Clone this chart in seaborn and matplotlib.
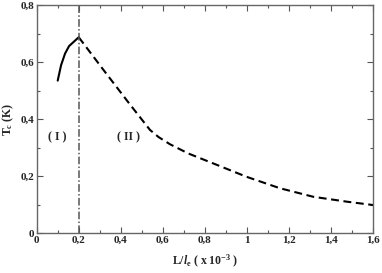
import matplotlib
matplotlib.use("Agg")
import matplotlib.pyplot as plt
import seaborn as sns
import pandas as pd
from matplotlib.ticker import FuncFormatter, MultipleLocator

# Data
x_region1 = [0.10, 0.116, 0.135, 0.154, 0.20]
y_region1 = [0.535, 0.589, 0.630, 0.656, 0.687]
x_region2 = [0.20, 0.317, 0.443, 0.539, 0.58, 0.634, 0.72, 0.839, 0.998, 1.156, 1.315, 1.473, 1.60]
y_region2 = [0.687, 0.573, 0.452, 0.362, 0.337, 0.312, 0.280, 0.245, 0.198, 0.158, 0.128, 0.111, 0.099]
boundary_x = 0.2
x_ticks = [0, 0.2, 0.4, 0.6, 0.8, 1.0, 1.2, 1.4, 1.6]
y_ticks = [0, 0.2, 0.4, 0.6, 0.8]
region_labels = ["( I )", "( II )"]
region_label_x = [0.10, 0.435]
region_label_y = [0.337, 0.337]

sns.set_style("ticks")
plt.rcParams['font.family'] = ['Liberation Serif', 'DejaVu Serif']
plt.rcParams['mathtext.fontset'] = 'custom'
plt.rcParams['mathtext.rm'] = 'Liberation Serif:bold'
plt.rcParams['mathtext.it'] = 'Liberation Serif:italic:bold'
plt.rcParams['mathtext.bf'] = 'Liberation Serif:bold'

fig = plt.figure(figsize=(3.82, 2.73), dpi=100)
ax = fig.add_axes([0.096, 0.1454, 0.881, 0.8363])

df1 = pd.DataFrame({"x": x_region1, "y": y_region1})
df2 = pd.DataFrame({"x": x_region2, "y": y_region2})
sns.lineplot(data=df1, x="x", y="y", ax=ax, color="black", lw=1.5, sort=False)
sns.lineplot(data=df2, x="x", y="y", ax=ax, color="black", lw=1.5, sort=False,
             dashes=False, linestyle=(0, (3.8, 2.2)))
ax.axvline(boundary_x, color="#555555", lw=1.1, linestyle=(0, (5, 1.5, 1, 1.5)))

for t, xx, yy in zip(region_labels, region_label_x, region_label_y):
    ax.text(xx, yy, t, ha="center", va="center", fontsize=8.5, fontweight="bold")

ax.set_xlim(0, 1.6)
ax.set_ylim(0, 0.8)
ax.set_xticks(x_ticks)
ax.set_yticks(y_ticks)
ax.xaxis.set_minor_locator(MultipleLocator(0.1))
ax.yaxis.set_minor_locator(MultipleLocator(0.1))

def fmt(v, pos):
    s = f"{v:.1f}"
    if s.endswith(".0"):
        s = s[:-2]
    return s.replace(".", ",")

ax.xaxis.set_major_formatter(FuncFormatter(fmt))
ax.yaxis.set_major_formatter(FuncFormatter(fmt))
ax.tick_params(which="both", direction="in", top=True, right=True, color="#555555")
ax.tick_params(which="major", length=4, width=0.8, labelsize=8, pad=2)
ax.tick_params(which="minor", length=2.5, width=0.8)
for lab in ax.get_xticklabels() + ax.get_yticklabels():
    lab.set_fontweight("bold")
for sp in ax.spines.values():
    sp.set_color("#666666")
    sp.set_linewidth(1.0)

ax.set_xlabel(r"L/$\mathit{l}_{\mathrm{e}}$ ( x 10$^{\mathrm{-3}}$ )", fontsize=8.5, fontweight="bold", labelpad=6)
ax.set_ylabel(r"T$_{\mathrm{c}}$ (K)", fontsize=8.5, fontweight="bold", labelpad=3)

fig.savefig("out.png", dpi=100)
